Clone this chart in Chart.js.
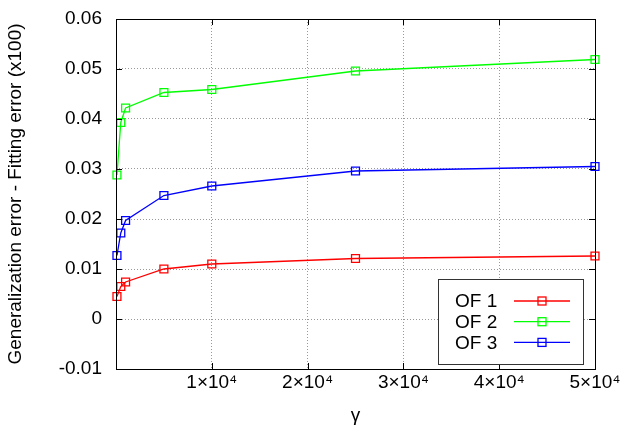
<!DOCTYPE html>
<html>
<head>
<meta charset="utf-8">
<script src="https://cdn.jsdelivr.net/npm/chart.js@4.4.1/dist/chart.umd.min.js"></script>
<style>
    html, body { margin: 0; padding: 0; background: #fff; }
    #wrap { width: 627px; height: 435px; }
</style>
</head>
<body>
<div id="wrap"><canvas id="errChart" width="627" height="435"></canvas></div>
<script>
// values
const gammaValues = [100, 500, 1000, 5000, 10000, 25000, 50000];
const of1 = [0.0045, 0.0065, 0.0074, 0.0100, 0.0110, 0.0121, 0.0126];
const of2 = [0.0288, 0.0393, 0.0422, 0.0453, 0.0459, 0.0496, 0.0519];
const of3 = [0.0127, 0.0172, 0.0197, 0.0247, 0.0266, 0.0296, 0.0305];

const seriesLabels = ['OF 1', 'OF 2', 'OF 3'];
const seriesColors = ['#ff0000', '#00ff00', '#0000ff'];

const xTicks = [0, 10000, 20000, 30000, 40000, 50000];
const yTicks = [-0.01, 0, 0.01, 0.02, 0.03, 0.04, 0.05, 0.06];

Chart.defaults.font.family = '"Liberation Sans", Arial, Helvetica, sans-serif';
Chart.defaults.font.size = 19;
Chart.defaults.color = '#000';

function toPoints(ys) {
    return gammaValues.map((g, i) => ({ x: g, y: ys[i] }));
}

const datasets = [of1, of2, of3].map((vals, i) => ({
    label: seriesLabels[i],
    data: toPoints(vals),
    borderColor: seriesColors[i],
    backgroundColor: 'transparent',
    borderWidth: 1.3,
    pointStyle: 'rect',
    pointRadius: 5.6,
    pointBorderWidth: 1.3,
    pointBackgroundColor: 'transparent',
    pointBorderColor: seriesColors[i],
    tension: 0,
    clip: false
}));

// frame, inward ticks and the boxed key, gnuplot style
const framePlugin = {
    id: 'frame',
    afterDraw(chart) {
        const { ctx, chartArea: a, scales } = chart;
        const tl = 6;
        ctx.save();
        ctx.strokeStyle = '#000';
        ctx.lineWidth = 1;
        ctx.beginPath();
        scales.x.ticks.forEach(t => {
            const px = Math.round(scales.x.getPixelForValue(t.value)) + 0.5;
            ctx.moveTo(px, a.bottom); ctx.lineTo(px, a.bottom - tl);
            ctx.moveTo(px, a.top); ctx.lineTo(px, a.top + tl);
        });
        scales.y.ticks.forEach(t => {
            const py = Math.round(scales.y.getPixelForValue(t.value)) + 0.5;
            ctx.moveTo(a.left, py); ctx.lineTo(a.left + tl, py);
            ctx.moveTo(a.right, py); ctx.lineTo(a.right - tl, py);
        });
        ctx.stroke();

        // key box
        const bx = 438, by = 279, bw = 145, bh = 85;
        ctx.fillStyle = '#fff';
        ctx.fillRect(bx, by, bw, bh);
        ctx.strokeStyle = '#333';
        ctx.strokeRect(bx + 0.5, by + 0.5, bw, bh);

        ctx.font = '19px "Liberation Sans", Arial, sans-serif';
        ctx.textBaseline = 'middle';
        ctx.textAlign = 'left';
        chart.data.datasets.forEach((ds, i) => {
            const ry = by + 22 + i * 20.7;
            ctx.fillStyle = '#000';
            ctx.fillText(ds.label, bx + 17, ry + 1);
            ctx.strokeStyle = ds.borderColor;
            ctx.lineWidth = 1.3;
            ctx.beginPath();
            ctx.moveTo(bx + 76, ry);
            ctx.lineTo(bx + 132, ry);
            ctx.stroke();
            ctx.strokeRect(bx + 104 - 4, ry - 4, 8, 8);
        });

        ctx.strokeStyle = '#000';
        ctx.lineWidth = 1;
        ctx.strokeRect(Math.round(a.left) + 0.5, Math.round(a.top) + 0.5,
            Math.round(a.right - a.left), Math.round(a.bottom - a.top));
        ctx.restore();
    }
};

new Chart(document.getElementById('errChart'), {
    type: 'line',
    data: { datasets },
    options: {
        responsive: false,
        animation: false,
        layout: { padding: { top: 19, right: 32, left: 0, bottom: 0 } },
        plugins: {
            legend: { display: false },
            tooltip: { enabled: false }
        },
        scales: {
            x: {
                type: 'linear',
                min: 0,
                max: 50000,
                afterBuildTicks: s => { s.ticks = xTicks.map(v => ({ value: v })); },
                afterFit: s => { s.height = 66; },
                ticks: {
                    padding: 2,
                    maxRotation: 0,
                    callback: v => v === 0 ? '' : (v / 10000) + '×10⁴'
                },
                grid: { color: '#999', lineWidth: 1, drawTicks: false },
                border: { display: false, dash: [1, 2] },
                title: { display: true, text: 'γ', padding: { top: 0, bottom: 8 } }
            },
            y: {
                type: 'linear',
                min: -0.01,
                max: 0.06,
                afterBuildTicks: s => { s.ticks = yTicks.map(v => ({ value: v })); },
                afterFit: s => {
                    s.width = 116;
                    s.paddingTop = 0;
                    s.paddingBottom = 0;
                },
                ticks: {
                    padding: 14,
                    callback: v => String(parseFloat(v.toFixed(2)))
                },
                grid: { color: '#999', lineWidth: 1, drawTicks: false },
                border: { display: false, dash: [1, 2] },
                title: {
                    display: true,
                    text: 'Generalization error - Fitting error (x100)',
                    padding: { top: 4, bottom: 4 }
                }
            }
        }
    },
    plugins: [framePlugin]
});
</script>
</body>
</html>
